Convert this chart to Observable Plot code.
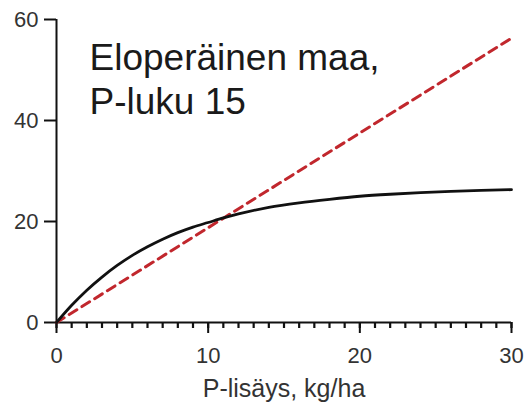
<!DOCTYPE html>
<html>
<head>
<meta charset="utf-8">
<script src="https://cdn.jsdelivr.net/npm/d3@7"></script>
<script src="https://cdn.jsdelivr.net/npm/@observablehq/plot@0.6"></script>
<style>
  html, body { margin: 0; padding: 0; background: #fff; }
</style>
</head>
<body>
<div id="chart"></div>
<script>
// Response curve
const curveX = [0, 1, 2, 3, 4, 5, 6, 7, 8, 9, 10, 11, 12, 14, 16, 18, 20, 22, 24, 26, 28, 30];
const curveY = [0, 3.4, 6.4, 9.0, 11.3, 13.3, 15.0, 16.5, 17.8, 18.9, 19.8, 20.7, 21.5, 22.8, 23.7, 24.4, 25.0, 25.4, 25.7, 25.95, 26.15, 26.3];
// Dashed reference line
const lineX = [0, 30];
const lineY = [0, 56.3];
// Ticks and texts
const xTicks = [0, 10, 20, 30];
const xMinorTicks = [0,1,2,3,4,5,6,7,8,9,10,11,12,13,14,15,16,17,18,19,20,21,22,23,24,25,26,27,28,29,30];
const yTicks = [0, 20, 40, 60];
const xLabel = "P-lisäys, kg/ha";
const panelTitle = "Eloperäinen maa,\nP-luku 15";

const curve = curveX.map((x, i) => ({x, y: curveY[i]}));
const line = lineX.map((x, i) => ({x, y: lineY[i]}));

const chart = Plot.plot({
  width: 525,
  height: 411,
  marginLeft: 56,
  marginRight: 14,
  marginTop: 19,
  marginBottom: 89,
  style: {fontFamily: "'Liberation Sans', Arial, sans-serif", background: "#fff", color: "#333"},
  x: {domain: [0, 30]},
  y: {domain: [0, 60]},
  marks: [
    Plot.axisY({ticks: yTicks, tickSize: 12, tickPadding: 6, fontSize: 22, label: null, stroke: "#111", strokeWidth: 2, fill: "#333"}),
    Plot.axisX({ticks: xMinorTicks, tickSize: 6, tickFormat: () => "", label: null, stroke: "#111", strokeWidth: 2.2}),
    Plot.axisX({ticks: xTicks, tickSize: 11, tickPadding: 14, fontSize: 22, label: null, stroke: "#111", strokeWidth: 2, fill: "#333"}),
    Plot.ruleX([0], {y1: 0, y2: 60, stroke: "#111", strokeWidth: 2}),
    Plot.ruleY([0], {x1: 0, x2: 30, stroke: "#111", strokeWidth: 2}),
    Plot.line(line, {x: "x", y: "y", stroke: "#c1272d", strokeWidth: 3, strokeDasharray: "9,6"}),
    Plot.line(curve, {x: "x", y: "y", stroke: "#111", strokeWidth: 2.8, curve: "monotone-x"}),
    Plot.text([panelTitle], {frameAnchor: "top-left", textAnchor: "start", lineAnchor: "top", dx: 33, dy: 19, fontSize: 37, lineHeight: 1.2, fill: "#1a1a1a"}),
    Plot.text([xLabel], {frameAnchor: "bottom", lineAnchor: "top", dy: 57, fontSize: 25, fill: "#333"})
  ]
});
document.getElementById("chart").appendChild(chart);
</script>
</body>
</html>
